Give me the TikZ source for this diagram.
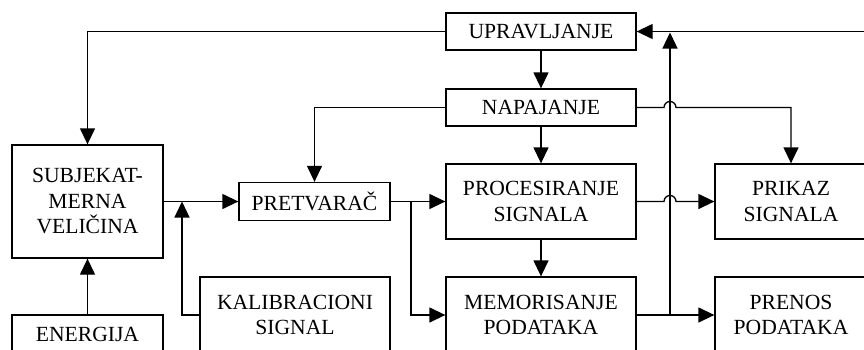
\documentclass[tikz,border=0pt]{standalone}
\usepackage{fontspec}
\setmainfont{Liberation Serif}
\usepackage{tikz}
\usetikzlibrary{arrows.meta,positioning,calc}

\begin{document}
\begin{tikzpicture}[
  x=1pt,y=-1pt,
  line width=1.3pt,
  blk/.style={draw,rectangle,align=center,inner sep=0pt,
    font=\fontsize{21.6}{25.5}\selectfont},
  arr/.style={-{Triangle[length=16pt,width=15pt]}}]
  \useasboundingbox (0,0) rectangle (864,349);
  \clip (0,0) rectangle (864,349);
  % middle column
  \node[blk,minimum width=190pt,minimum height=37pt] (upr) at (541,31.5) {UPRAVLJANJE};
  \node[blk,minimum width=190pt,minimum height=37pt] (nap) at (541,107.5) {NAPAJANJE};
  \node[blk,minimum width=190pt,minimum height=75pt] (pro) at (541,201.5) {PROCESIRANJE\\SIGNALA};
  \node[blk,minimum width=190pt,minimum height=76pt] (mem) at (541,315) {MEMORISANJE\\PODATAKA};
  % right column
  \node[blk,minimum width=152pt,minimum height=75pt] (pri) at (791,201.5) {PRIKAZ\\SIGNALA};
  \node[blk,minimum width=152pt,minimum height=76pt] (prn) at (791,315) {PRENOS\\PODATAKA};
  % left part
  \node[blk,minimum width=151pt,minimum height=113pt] (sub) at (87.5,201.5) {SUBJEKAT-\\MERNA\\VELIČINA};
  \node[blk,minimum width=151pt,minimum height=38pt] (ene) at (87.5,334) {ENERGIJA};
  \node[blk,minimum width=151pt,minimum height=38pt] (pret) at (314.5,201.5) {PRETVARAČ};
  \node[blk,minimum width=190pt,minimum height=76pt] (kal) at (295,315) {KALIBRACIONI\\SIGNAL};
  % junctions and free ends
  \coordinate (j1) at (182,201.5);
  \coordinate (j2) at (411,201.5);
  \coordinate (j3) at (670,315);
  \coordinate (j4) at (670,32.5);
  \coordinate (rt) at (880,31.5);
  % connectors
  \draw[arr] (upr.west) -| (sub.north);
  \draw[arr] (upr) -- (nap);
  \draw[arr] (nap.west) -| (pret.north);
  \draw[arr] (nap) -- (pro);
  \draw[arr] (nap.east) -- ($(j4|-nap.east)+(-6,0)$) arc[start angle=180,end angle=0,radius=6pt]
    -| (pri.north);
  \draw[arr] (pro.east) -- ($(j4|-pro.east)+(-6,0)$) arc[start angle=180,end angle=0,radius=6pt]
    -- (pri.west);
  \draw[arr] (pro) -- (mem);
  \draw[arr] (mem.east) -- (prn.west);
  \draw[arr] (j3) -- (j4);
  \draw[arr] (rt) -- (upr.east);
  \draw[arr] (ene) -- (sub);
  \draw[arr] (sub.east) -- (pret.west);
  \draw[arr] (kal.west) -| (j1);
  \draw[arr] (pret.east) -- (pro.west);
  \draw[arr] (j2) |- (mem.west);
\end{tikzpicture}
\end{document}
